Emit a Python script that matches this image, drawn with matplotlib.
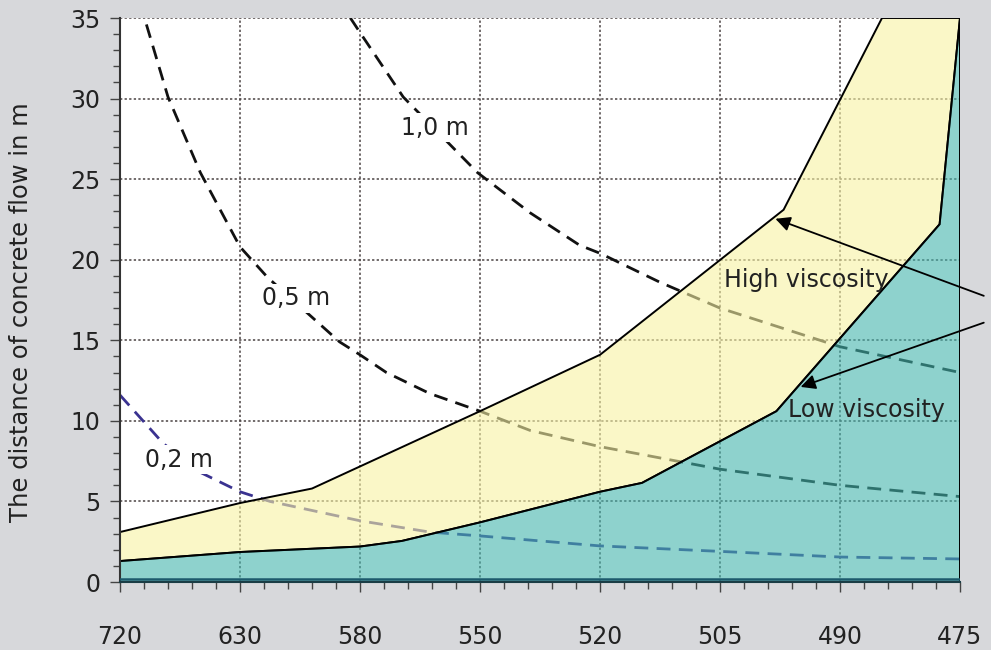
import matplotlib
matplotlib.use("Agg")
import matplotlib.pyplot as plt
from matplotlib.ticker import MultipleLocator

# slump flow categories on the x axis (evenly spaced)
flow_labels = ['720', '630', '580', '550', '520', '505', '490', '475']

# boundaries of the two regions, x given as position along the category axis
high_x = [0, 1.0, 1.6, 3.0, 4.0, 5.53, 6.35, 7.0]
high_y = [3.1, 4.9, 5.8, 10.6, 14.1, 23.1, 35, 35]
low_x = [0, 1.0, 2.0, 2.35, 3.0, 4.0, 4.35, 5.47, 6.83, 7.0]
low_y = [1.3, 1.86, 2.2, 2.55, 3.7, 5.6, 6.15, 10.6, 22.2, 35]

# dashed curves (0.2 m / 0.5 m / 1.0 m)
c02_x = [0, 0.36, 0.67, 1.0, 1.25, 1.75, 2.0, 2.58, 3.0, 4.0, 5.0, 6.0, 7.0]
c02_y = [11.6, 8.6, 6.8, 5.6, 5.0, 4.2, 3.8, 3.1, 2.86, 2.24, 1.9, 1.55, 1.43]
c05_x = [0.22, 0.4, 0.67, 1.0, 1.23, 1.83, 2.0, 2.22, 2.58, 3.0, 3.42, 4.0, 4.5, 5.0, 6.0, 7.0]
c05_y = [34.6, 30.1, 25.4, 20.8, 18.9, 14.9, 14.1, 13.0, 11.7, 10.6, 9.4, 8.4, 7.7, 7.0, 6.0, 5.3]
c10_x = [1.92, 2.0, 2.36, 2.98, 3.42, 3.83, 4.0, 4.5, 5.0, 6.0, 7.0]
c10_y = [35, 34.1, 30.1, 25.4, 22.9, 20.9, 20.4, 18.6, 17.0, 14.6, 13.0]

plt.rcParams['font.family'] = 'DejaVu Sans'

fig = plt.figure(figsize=(9.91, 6.5), dpi=100)
fig.patch.set_facecolor('#d7d8db')
ax = fig.add_axes([120 / 991, 1 - 582 / 650, 840 / 991, 564 / 650])
ax.set_facecolor('white')

ax.set_xlim(0, 7)
ax.set_ylim(0, 35)

# dashed curves sit under the translucent fills
dash_kw = dict(lw=2.0, dashes=(5, 3), zorder=1)
ax.plot(c02_x, c02_y, color='#3a3290', **dash_kw)
ax.plot(c05_x, c05_y, color='#111111', **dash_kw)
ax.plot(c10_x, c10_y, color='#111111', **dash_kw)

# yellow band between high and low viscosity lines
poly_x = high_x + low_x[::-1]
poly_y = high_y + low_y[::-1]
ax.fill(poly_x, poly_y, facecolor=(247 / 255, 242 / 255, 163 / 255, 0.6),
        edgecolor='black', lw=1.4, zorder=2)
# cyan region under low viscosity line
ax.fill(low_x + [7, 0], low_y + [0, 0], facecolor=(67 / 255, 180 / 255, 172 / 255, 0.6),
        edgecolor='black', lw=1.4, zorder=2)
ax.plot([0, 7], [0.2, 0.2], color='#1d5a6c', lw=1.8, zorder=3)

# labels on the curves
lbl_kw = dict(fontsize=17, color='#222222', ha='center', va='center', zorder=5,
              bbox=dict(facecolor='white', edgecolor='none', pad=2))
ax.text(2.62, 28.2, '1,0 m', **lbl_kw)
ax.text(1.47, 17.6, '0,5 m', **lbl_kw)
ax.text(0.49, 7.6, '0,2 m', **lbl_kw)

ax.text(5.03, 18.75, 'High viscosity', fontsize=17, color='#222222', va='center', zorder=5)
ax.text(5.57, 10.7, 'Low viscosity', fontsize=17, color='#222222', va='center', zorder=5)

arrow_kw = dict(arrowstyle='-|>', color='black', lw=1.3, mutation_scale=22)
ax.annotate('', xy=(5.44, 22.6), xytext=(7.22, 17.7), arrowprops=arrow_kw,
            annotation_clip=False, zorder=6)
ax.annotate('', xy=(5.65, 12.05), xytext=(7.22, 16.15), arrowprops=arrow_kw,
            annotation_clip=False, zorder=6)

# axes, ticks, grid
ax.set_xticks(range(len(flow_labels)))
ax.set_xticklabels(flow_labels)
ax.xaxis.set_minor_locator(MultipleLocator(0.2))
ax.yaxis.set_major_locator(MultipleLocator(5))
ax.yaxis.set_minor_locator(MultipleLocator(1))
ax.tick_params(which='major', direction='out', length=7, width=1.0, color='#444444',
               labelsize=17, labelcolor='#222222')
ax.tick_params(axis='x', which='major', pad=24)
ax.tick_params(axis='y', which='major', pad=7)
ax.tick_params(which='minor', direction='out', length=5, width=1.0, color='#444444')

ax.set_axisbelow(True)
ax.grid(True, which='major', color='#4a4242', lw=1.1, linestyle=(0, (1.5, 1.5)))

for side in ['top', 'right']:
    ax.spines[side].set_visible(False)
ax.spines['left'].set_color('#333333')
ax.spines['left'].set_linewidth(1.5)
ax.spines['bottom'].set_color('#1a3d45')
ax.spines['bottom'].set_linewidth(1.5)

ax.set_ylabel('The distance of concrete flow in m', fontsize=17.5, color='#222222')
ax.yaxis.set_label_coords(-0.104, 0.479)

fig.savefig('out.png', dpi=100, facecolor=fig.get_facecolor())
